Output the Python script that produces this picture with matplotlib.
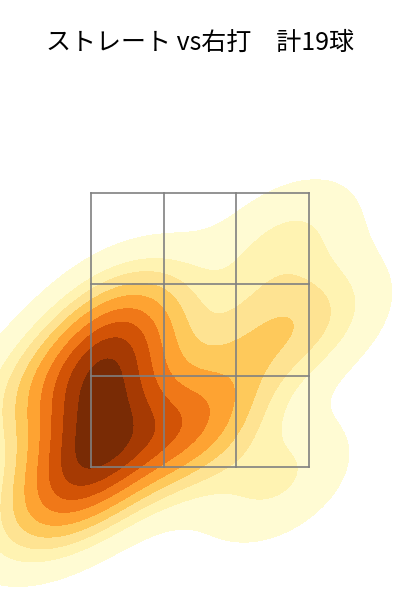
import matplotlib
matplotlib.use("Agg")
import matplotlib.pyplot as plt
import seaborn as sns
import numpy as np

plt.rcParams['font.family'] = ['Noto Sans CJK JP', 'DejaVu Sans']

title = "ストレート vs右打　計19球"

# pitch locations (ft): horizontal plate_x, vertical plate_z
plate_x = [-0.50, -0.55, -0.58, -0.62, -0.62, -0.65, -0.68, -0.70, -0.72, -0.75,
           -0.15, 0.05,
           0.40, 0.75, -0.05,
           0.55, -1.00, 0.50, -1.05]
plate_z = [2.65, 2.50, 2.35, 2.20, 2.05, 1.90, 1.75, 1.60, 1.45, 1.35,
           1.75, 1.95,
           2.50, 2.55, 1.70,
           3.15, 1.15, 1.40, 2.10]

zone_x = [-0.708, 0.708]
zone_z = [1.5, 3.5]

fig = plt.figure(figsize=(4, 6), dpi=100)
ax = fig.add_axes([0, 0, 1, 0.9])
sns.kdeplot(x=plate_x, y=plate_z, fill=True, cmap="YlOrBr", levels=10,
            thresh=0.05, ax=ax)

xs = np.linspace(zone_x[0], zone_x[1], 4)
zs = np.linspace(zone_z[0], zone_z[1], 4)
for x in xs:
    ax.plot([x, x], zone_z, color="#808080", lw=1.2)
for z in zs:
    ax.plot(zone_x, [z, z], color="#808080", lw=1.2)

ax.set_xlim(-1.2997, 1.2997)
ax.set_ylim(0.529, 4.471)
ax.axis("off")

fig.text(0.5, 1 - 43 / 600, title, ha="center", va="center", fontsize=18)
fig.savefig("out.png", dpi=100)
